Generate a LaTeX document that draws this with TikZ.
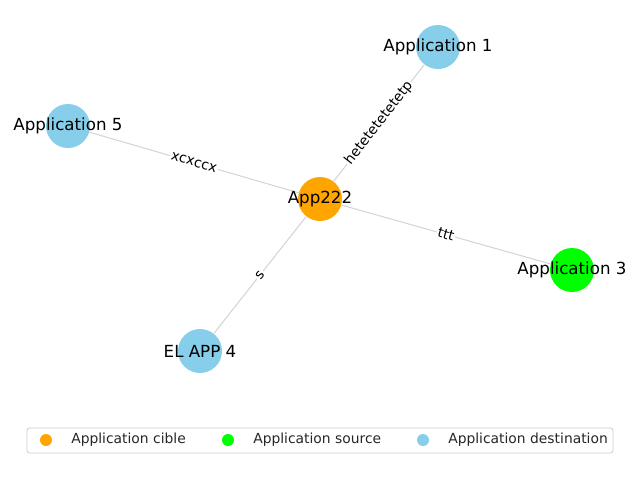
\documentclass[tikz,border=0pt]{standalone}
\usepackage{fontspec}
\setmainfont{DejaVu Sans}
\definecolor{cOrange}{HTML}{FFA500}
\definecolor{cLime}{HTML}{00FF00}
\definecolor{cSky}{HTML}{87CEEB}
\definecolor{cEdge}{HTML}{D3D3D3}
\definecolor{cFrame}{HTML}{CCCCCC}
\tikzset{
  app/.style={circle, minimum size=33pt, inner sep=0pt},
  applabel/.style={inner sep=0pt, text=black, font=\fontsize{12.5}{14}\selectfont},
  edge/.style={draw=cEdge, line width=0.75pt},
  elabel/.style={sloped, fill=white, inner sep=1pt, font=\fontsize{10.4}{12}\selectfont},
  legdot/.style={circle, minimum size=9pt, inner sep=0pt},
  legtext/.style={anchor=west, inner sep=0pt, font=\fontsize{10.4}{12}\selectfont, text=black!85}
}
\begin{document}
\begin{tikzpicture}[x=0.75pt,y=-0.75pt]
\useasboundingbox (0,0) rectangle (640,480);
\node[app, fill=cOrange] (c) at (320,199) {};
\node[app, fill=cSky] (a1) at (438,47) {};
\node[app, fill=cSky] (a5) at (68,126) {};
\node[app, fill=cLime] (a3) at (572,270) {};
\node[app, fill=cSky] (a4) at (200,351) {};
\path[edge] (c) -- (a1);
\path[edge] (c) -- (a5);
\path[edge] (c) -- (a3);
\path[edge] (c) -- (a4);
\path (c.center) -- node[elabel] {hetetetetetetp} (a1.center);
\path (c.center) -- node[elabel] {xcxccx} (a5.center);
\path (c.center) -- node[elabel] {ttt} (a3.center);
\path (c.center) -- node[elabel] {s} (a4.center);
\node[applabel] (lc) at (c) {App222};
\node[applabel] (l1) at (a1) {Application 1};
\node[applabel] (l5) at (a5) {Application 5};
\node[applabel] (l3) at (a3) {Application 3};
\node[applabel] (l4) at (a4) {EL APP 4};
% legend
\node[draw=cFrame, rounded corners=2pt, line width=0.6pt, minimum width=439.5pt, minimum height=18.75pt, inner sep=0pt] (leg) at (320,440.5) {};
\node[legdot, fill=cOrange] (d1) at (46,440) {};
\node[legtext] (t1) at (71,440) {Application cible};
\node[legdot, fill=cLime] (d2) at (228,440) {};
\node[legtext] (t2) at (253,440) {Application source};
\node[legdot, fill=cSky] (d3) at (423,440) {};
\node[legtext] (t3) at (448,440) {Application destination};
\end{tikzpicture}
\end{document}
